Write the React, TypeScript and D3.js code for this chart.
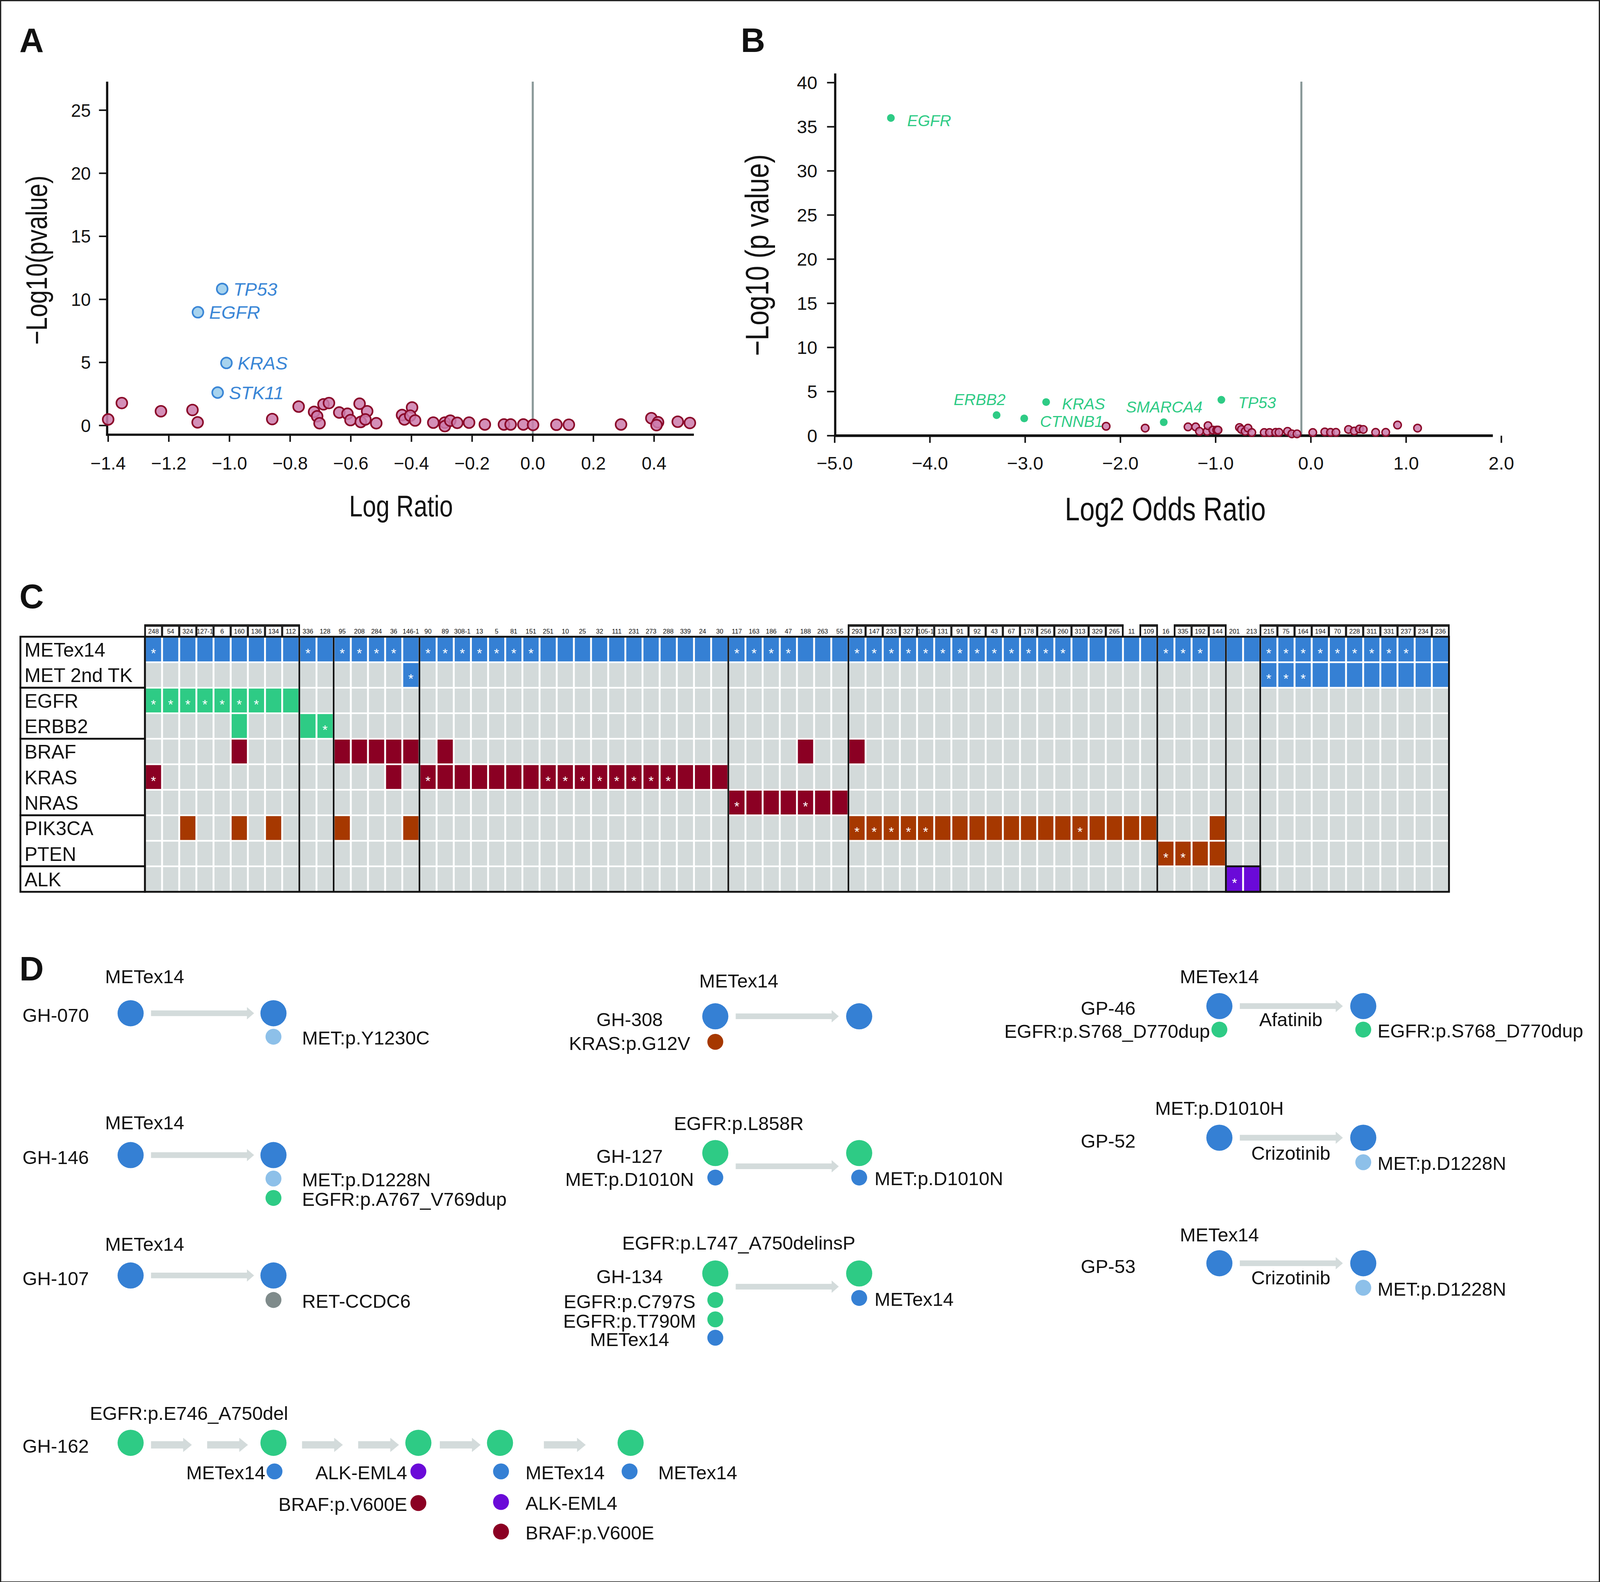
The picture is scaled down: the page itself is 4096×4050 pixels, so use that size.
import React from "react";
import * as d3 from "d3";

const S = 4096 / 1568;
const FONT = "'Liberation Sans', Arial, Helvetica, sans-serif";

// ---------------- Panel A data ----------------
const aBlueGenes = ["TP53", "EGFR", "KRAS", "STK11"];
const aBlueX = [-1.024, -1.104, -1.01, -1.039];
const aBlueY = [10.83, 8.98, 4.96, 2.61];
const aRedX = [-1.4, -1.355, -1.226, -1.122, -1.105, -0.859, -0.772, -0.721, -0.711, -0.703, -0.69, -0.672, -0.638, -0.611, -0.601, -0.571, -0.567, -0.546, -0.552, -0.516, -0.431, -0.423, -0.398, -0.404, -0.388, -0.328, -0.29, -0.29, -0.272, -0.249, -0.21, -0.158, -0.095, -0.073, -0.031, 0.001, 0.078, 0.119, 0.291, 0.391, 0.413, 0.408, 0.478, 0.518];
const aRedY = [0.48, 1.78, 1.13, 1.23, 0.25, 0.51, 1.5, 1.08, 0.73, 0.18, 1.68, 1.78, 1.03, 0.93, 0.43, 1.73, 0.28, 1.13, 0.48, 0.18, 0.83, 0.48, 1.43, 0.78, 0.4, 0.23, 0.23, -0.05, 0.38, 0.21, 0.23, 0.08, 0.08, 0.08, 0.08, 0.05, 0.06, 0.06, 0.08, 0.58, 0.26, 0.03, 0.3, 0.2];
const aXTicks = [-1.4, -1.2, -1.0, -0.8, -0.6, -0.4, -0.2, 0, 0.2, 0.4];
const aYTicks = [0, 5, 10, 15, 20, 25];

// ---------------- Panel B data ----------------
const bGreenGenes = ["EGFR", "ERBB2", "CTNNB1", "KRAS", "SMARCA4", "TP53"];
const bGreenX = [-4.41, -3.3, -3.01, -2.78, -1.545, -0.94];
const bGreenY = [36.0, 2.33, 1.96, 3.81, 1.53, 4.07];
const bRedX = [-2.15, -1.74, -1.29, -1.21, -1.17, -1.09, -1.08, -1.03, -0.99, -0.975, -0.75, -0.73, -0.69, -0.66, -0.62, -0.49, -0.435, -0.37, -0.335, -0.245, -0.2, -0.146, 0.02, 0.146, 0.206, 0.263, 0.395, 0.456, 0.51, 0.55, 0.68, 0.786, 0.91, 1.12];
const bRedY = [1.07, 0.86, 1.0, 1.0, 0.5, 0.5, 1.14, 0.64, 0.64, 0.64, 0.93, 0.71, 0.5, 0.86, 0.36, 0.36, 0.36, 0.38, 0.38, 0.5, 0.21, 0.21, 0.36, 0.43, 0.38, 0.38, 0.71, 0.53, 0.76, 0.71, 0.38, 0.38, 1.21, 0.86];
const bXTicks = [-5, -4, -3, -2, -1, 0, 1, 2];
const bYTicks = [0, 5, 10, 15, 20, 25, 30, 35, 40];

// ---------------- Panel C data ----------------
const cSamples = ["248", "54", "324", "127-1", "6", "160", "136", "134", "112", "336", "128", "95", "208", "284", "36", "146-1", "90", "89", "308-1", "13", "5", "81", "151", "251", "10", "25", "32", "111", "231", "273", "288", "339", "24", "30", "117", "163", "186", "47", "188", "263", "55", "293", "147", "233", "327", "105-1", "131", "91", "92", "43", "67", "178", "256", "260", "313", "329", "265", "11", "109", "16", "335", "192", "144", "201", "213", "215", "75", "164", "194", "70", "228", "311", "331", "237", "234", "236"];
const cGenes = ["METex14", "MET 2nd TK", "EGFR", "ERBB2", "BRAF", "KRAS", "NRAS", "PIK3CA", "PTEN", "ALK"];
const cGeneClass = ["met", "met", "egfr", "egfr", "ras", "ras", "ras", "pi3k", "pi3k", "alk"];
const cGeneGroups = [["METex14", "MET 2nd TK"], ["EGFR", "ERBB2"], ["BRAF", "KRAS", "NRAS"], ["PIK3CA", "PTEN"], ["ALK"]];
const cAltered: string[][] = [
  cSamples,
  ["146-1", "215", "75", "164", "194", "70", "228", "311", "331", "237", "234", "236"],
  ["248", "54", "324", "127-1", "6", "160", "136", "134", "112"],
  ["160", "336", "128"],
  ["160", "95", "208", "284", "36", "146-1", "89", "188", "293"],
  ["248", "36", "90", "89", "308-1", "13", "5", "81", "151", "251", "10", "25", "32", "111", "231", "273", "288", "339", "24", "30"],
  ["117", "163", "186", "47", "188", "263", "55"],
  ["324", "160", "134", "95", "146-1", "293", "147", "233", "327", "105-1", "131", "91", "92", "43", "67", "178", "256", "260", "313", "329", "265", "11", "109", "144"],
  ["16", "335", "192", "144"],
  ["201", "213"],
];
const cStarred: string[][] = [
  ["248", "336", "95", "208", "284", "36", "90", "89", "308-1", "13", "5", "81", "151", "117", "163", "186", "47", "293", "147", "233", "327", "105-1", "131", "91", "92", "43", "67", "178", "256", "260", "16", "335", "192", "215", "75", "164", "194", "70", "228", "311", "331", "237"],
  ["146-1", "215", "75", "164"],
  ["248", "54", "324", "127-1", "6", "160", "136"],
  ["128"],
  [],
  ["248", "90", "251", "10", "25", "32", "111", "231", "273", "288"],
  ["117", "188"],
  ["293", "147", "233", "327", "105-1", "313"],
  ["16", "335"],
  ["201"],
];
const cGroupEnds = ["112", "128", "146-1", "30", "55", "109", "144", "213"];
const cBoxedRuns = [["248", "112"], ["293", "265"], ["109", "109"], ["335", "144"], ["215", "236"]];
const cAlkBox = ["201", "213"];

// ---------------- Panel D data ----------------
type Mut = [string, string];
const dCases: { id: string; top: string; drug?: string; big: string; before: Mut[]; after: Mut[] }[] = [
  { id: "GH-070", top: "METex14", big: "blue", before: [], after: [["MET:p.Y1230C", "lightblue"]] },
  { id: "GH-146", top: "METex14", big: "blue", before: [], after: [["MET:p.D1228N", "lightblue"], ["EGFR:p.A767_V769dup", "green"]] },
  { id: "GH-107", top: "METex14", big: "blue", before: [], after: [["RET-CCDC6", "gray"]] },
  { id: "GH-308", top: "METex14", big: "blue", before: [["KRAS:p.G12V", "orange"]], after: [] },
  { id: "GH-127", top: "EGFR:p.L858R", big: "green", before: [["MET:p.D1010N", "blue"]], after: [["MET:p.D1010N", "blue"]] },
  { id: "GH-134", top: "EGFR:p.L747_A750delinsP", big: "green", before: [["EGFR:p.C797S", "green"], ["EGFR:p.T790M", "green"], ["METex14", "blue"]], after: [["METex14", "blue"]] },
  { id: "GP-46", top: "METex14", drug: "Afatinib", big: "blue", before: [["EGFR:p.S768_D770dup", "green"]], after: [["EGFR:p.S768_D770dup", "green"]] },
  { id: "GP-52", top: "MET:p.D1010H", drug: "Crizotinib", big: "blue", before: [], after: [["MET:p.D1228N", "lightblue"]] },
  { id: "GP-53", top: "METex14", drug: "Crizotinib", big: "blue", before: [], after: [["MET:p.D1228N", "lightblue"]] },
];
const d162 = {
  id: "GH-162",
  top: "EGFR:p.E746_A750del",
  big: "green",
  stages: [
    [] as Mut[],
    [["METex14", "blue"]] as Mut[],
    [["ALK-EML4", "purple"], ["BRAF:p.V600E", "darkred"]] as Mut[],
    [["METex14", "blue"], ["ALK-EML4", "purple"], ["BRAF:p.V600E", "darkred"]] as Mut[],
    [["METex14", "blue"]] as Mut[],
  ],
};

// ---------------- Styles ----------------
const COL: Record<string, string> = {
  blue: "#3580D4",
  lightblue: "#8DC0E9",
  green: "#2ECB85",
  orange: "#A63800",
  gray: "#7F8B8B",
  purple: "#6A0AD8",
  darkred: "#8B0023",
};
const CLASS_COL: Record<string, string> = {
  met: "#3580D4",
  egfr: "#2ECB85",
  ras: "#8B0023",
  pi3k: "#A63800",
  alk: "#6A0AD8",
};
const CELL_GRAY = "#D3DADA";
const VLINE = "#8A9999";

// layout for panel D
const dColumns = {
  L: { idX: 22, idAnchor: "start", topX: 103, topAnchor: "start", c1: 128, c2: 268, a1: 148, a2: 249, afterX: 296, beforeX: 617, drugX: 0 },
  M: { idX: 617, idAnchor: "middle", topX: 724, topAnchor: "middle", c1: 701, c2: 842, a1: 721, a2: 822, afterX: 857, beforeX: 617, drugX: 0 },
  R: { idX: 1086, idAnchor: "middle", topX: 1195, topAnchor: "middle", c1: 1195, c2: 1336, a1: 1215, a2: 1316, afterX: 1350, beforeX: 1085, drugX: 1265 },
};
const dLayout = [
  { col: "L", top: 957, id: 995, circ: 993, arrow: 993, drug: 0, before: [] as number[], after: [1016] },
  { col: "L", top: 1100, id: 1134, circ: 1132, arrow: 1132, drug: 0, before: [], after: [1155, 1174] },
  { col: "L", top: 1219, id: 1253, circ: 1250, arrow: 1250, drug: 0, before: [], after: [1274] },
  { col: "M", top: 961, id: 999, circ: 996, arrow: 996, drug: 0, before: [1021], after: [] },
  { col: "M", top: 1101, id: 1133, circ: 1130, arrow: 1143, drug: 0, before: [1154], after: [1154] },
  { col: "M", top: 1218, id: 1251, circ: 1248, arrow: 1261, drug: 0, before: [1274, 1293, 1311], after: [1272] },
  { col: "R", top: 957, id: 988, circ: 986, arrow: 986, drug: 999, before: [1009], after: [1009] },
  { col: "R", top: 1086, id: 1118, circ: 1115, arrow: 1115, drug: 1130, before: [], after: [1139] },
  { col: "R", top: 1210, id: 1241, circ: 1238, arrow: 1238, drug: 1252, before: [], after: [1262] },
];

const FS_D = 18.6;
const base = (cy: number, fs: number) => cy + fs * 0.355;

function Txt(p: { x: number; y: number; t: string; a?: string; fs?: number; fill?: string; it?: boolean; w?: string }) {
  return (
    <text x={p.x} y={p.y} textAnchor={(p.a as any) || "start"} fontSize={p.fs || FS_D} fill={p.fill || "#111"} fontStyle={p.it ? "italic" : "normal"} fontWeight={p.w || "normal"} fontFamily={FONT}>
      {p.t}
    </text>
  );
}

// condensed title text (horizontal compression of a regular face)
function Title(p: { x: number; y: number; t: string; fs: number; rot?: boolean; sx?: number }) {
  const sx = p.sx ?? 0.82;
  return (
    <g transform={`translate(${p.x},${p.y})${p.rot ? " rotate(-90)" : ""} scale(${sx},1)`}>
      <text x={0} y={0} textAnchor="middle" fontSize={p.fs} fill="#111" fontFamily={FONT}>
        {p.t}
      </text>
    </g>
  );
}

function Arrow(p: { x1: number; x2: number; y: number; body?: number; head?: number; len?: number }) {
  const b = (p.body ?? 5.6) / 2;
  const h = (p.head ?? 12) / 2;
  const l = p.len ?? 7;
  const xm = p.x2 - l;
  const pts = [
    [p.x1, p.y - b], [xm, p.y - b], [xm, p.y - h], [p.x2, p.y], [xm, p.y + h], [xm, p.y + b], [p.x1, p.y + b],
  ].map((q) => q.join(",")).join(" ");
  return <polygon points={pts} fill="#D3DBDB" />;
}

function PanelA() {
  const x = d3.scaleLinear().domain([-1.4, 0.4]).range([106, 641]);
  const y = d3.scaleLinear().domain([0, 25]).range([417, 108]);
  const fmt = d3.format(".1f");
  const axX = 105, axY = 426, right = 680, top = 80;
  return (
    <g>
      <line x1={x(0)} x2={x(0)} y1={top} y2={axY} stroke={VLINE} strokeWidth={2} />
      <line x1={axX} x2={axX} y1={top} y2={axY + 1} stroke="#111" strokeWidth={2.2} />
      <line x1={axX - 1} x2={right} y1={axY} y2={axY} stroke="#111" strokeWidth={2.2} />
      {aYTicks.map((t) => (
        <g key={"ay" + t}>
          <line x1={axX - 8} x2={axX} y1={y(t)} y2={y(t)} stroke="#111" strokeWidth={1.5} />
          <Txt x={89} y={y(t) + 6.3} t={String(t)} a="end" fs={17.5} />
        </g>
      ))}
      {aXTicks.map((t) => (
        <g key={"ax" + t}>
          <line x1={x(t)} x2={x(t)} y1={axY} y2={axY + 7} stroke="#111" strokeWidth={1.5} />
          <Txt x={x(t)} y={460} t={fmt(t)} a="middle" fs={17.5} />
        </g>
      ))}
      {aRedX.map((v, i) => (
        <circle key={"ar" + i} cx={x(v)} cy={y(aRedY[i])} r={5.3} fill="#CD7BAB" fillOpacity={0.85} stroke="#8B0A2A" strokeWidth={1.6} />
      ))}
      {aBlueX.map((v, i) => (
        <g key={"ab" + i}>
          <circle cx={x(v)} cy={y(aBlueY[i])} r={5.3} fill="#A7D3EE" stroke="#3A86D6" strokeWidth={1.6} />
          <Txt x={x(v) + 11} y={y(aBlueY[i]) + 6.5} t={aBlueGenes[i]} fs={18} it fill="#3A86D6" />
        </g>
      ))}
      <Title x={393} y={506} t="Log Ratio" fs={29} />
      <Title x={46} y={255} t={"\u2212Log10(pvalue)"} fs={29} rot />
      <Txt x={19} y={51} t="A" fs={33} w="bold" />
    </g>
  );
}

const bLabelOff: Record<string, [number, number]> = {
  EGFR: [16, 8],
  ERBB2: [-42, -10],
  CTNNB1: [15.5, 8.3],
  KRAS: [15.6, 7],
  SMARCA4: [-37, -9.6],
  TP53: [16.5, 8.4],
};

function PanelB() {
  const x = d3.scaleLinear().domain([-5, 1]).range([818, 1378]);
  const y = d3.scaleLinear().domain([0, 40]).range([427, 81]);
  const fmt = d3.format(".1f");
  const axX = 818.5, axY = 427, right = 1463, top = 72;
  return (
    <g>
      <line x1={x(-0.1)} x2={x(-0.1)} y1={80} y2={axY} stroke={VLINE} strokeWidth={2} />
      <line x1={axX} x2={axX} y1={top} y2={axY + 1} stroke="#111" strokeWidth={2.2} />
      <line x1={axX - 1} x2={right} y1={axY} y2={axY} stroke="#111" strokeWidth={2.6} />
      {bYTicks.map((t) => (
        <g key={"by" + t}>
          <line x1={axX - 8} x2={axX} y1={y(t)} y2={y(t)} stroke="#111" strokeWidth={1.5} />
          <Txt x={801} y={y(t) + 6.4} t={String(t)} a="end" fs={18} />
        </g>
      ))}
      {bXTicks.map((t) => (
        <g key={"bx" + t}>
          <line x1={x(t)} x2={x(t)} y1={axY} y2={axY + 7} stroke="#111" strokeWidth={1.5} />
          <Txt x={x(t)} y={460} t={fmt(t)} a="middle" fs={18} />
        </g>
      ))}
      {bRedX.map((v, i) => (
        <circle key={"br" + i} cx={x(v)} cy={y(bRedY[i])} r={3.7} fill="#CD7BAB" fillOpacity={0.85} stroke="#8B0A2A" strokeWidth={1.4} />
      ))}
      {bGreenX.map((v, i) => {
        const o = bLabelOff[bGreenGenes[i]];
        return (
          <g key={"bg" + i}>
            <circle cx={x(v)} cy={y(bGreenY[i])} r={3.8} fill="#2ECB85" />
            <Txt x={x(v) + o[0]} y={y(bGreenY[i]) + o[1]} t={bGreenGenes[i]} fs={15.5} it fill="#2ECB85" />
          </g>
        );
      })}
      <Title x={1142} y={510} t="Log2 Odds Ratio" fs={32} />
      <Title x={753} y={250} t={"\u2212Log10 (p value)"} fs={32} rot />
      <Txt x={726} y={51} t="B" fs={33} w="bold" />
    </g>
  );
}

function PanelC() {
  const x = d3.scaleBand<string>().domain(cSamples).range([142, 1420]).paddingInner(0.11).paddingOuter(0.055);
  const y = d3.scaleBand<string>().domain(cGenes).range([624, 874]).paddingInner(0.065).paddingOuter(0.0325);
  const step = x.step();
  const colStart = (s: string) => 142 + cSamples.indexOf(s) * step;
  const colEnd = (s: string) => colStart(s) + step;
  const rStep = y.step();
  const rowStart = (g: string) => 624 + cGenes.indexOf(g) * rStep;
  const boxed = new Set<string>();
  cBoxedRuns.forEach(([a, b]) => {
    const i0 = cSamples.indexOf(a), i1 = cSamples.indexOf(b);
    for (let i = i0; i <= i1; i++) boxed.add(cSamples[i]);
  });
  const hTop = 612.5, hBot = 624;
  return (
    <g>
      <Txt x={19} y={596} t="C" fs={33} w="bold" />
      {cSamples.map((s) => (
        <g key={"h" + s}>
          {boxed.has(s) && <rect x={colStart(s) + 0.5} y={hTop + 1.2} width={step - 1} height={hBot - hTop - 1.2} fill="#fff" stroke="#111" strokeWidth={1} />}
          <Txt x={colStart(s) + step / 2} y={621} t={s} a="middle" fs={6.3} />
        </g>
      ))}
      {cBoxedRuns.map(([a, b]) => (
        <path key={"hb" + a} d={`M${colStart(a)},${hBot} V${hTop} H${colEnd(b)} V${hBot}`} fill="none" stroke="#111" strokeWidth={1.3} />
      ))}
      {cGenes.map((g, gi) =>
        cSamples.map((s) => {
          const alt = cAltered[gi].includes(s);
          const star = cStarred[gi].includes(s);
          const cx = (x(s) as number) + x.bandwidth() / 2;
          const cy = (y(g) as number) + y.bandwidth() / 2;
          return (
            <g key={g + s}>
              <rect x={x(s)} y={y(g)} width={x.bandwidth()} height={y.bandwidth()} fill={alt ? CLASS_COL[cGeneClass[gi]] : CELL_GRAY} />
              {star && <text x={cx} y={cy + 8.2} textAnchor="middle" fontSize={13} fill="#fff" fontFamily={FONT}>*</text>}
            </g>
          );
        })
      )}
      {cGroupEnds.map((s) => (
        <line key={"sep" + s} x1={colEnd(s)} x2={colEnd(s)} y1={624} y2={874} stroke="#111" strokeWidth={1.6} />
      ))}
      <rect x={colStart(cAlkBox[0])} y={rowStart("ALK")} width={colEnd(cAlkBox[1]) - colStart(cAlkBox[0])} height={874 - rowStart("ALK")} fill="none" stroke="#111" strokeWidth={1.8} />
      <rect x={142} y={624} width={1278} height={250} fill="none" stroke="#111" strokeWidth={1.8} />
      {cGeneGroups.map((grp) => {
        const y0 = rowStart(grp[0]);
        const y1 = rowStart(grp[grp.length - 1]) + rStep;
        return <rect key={"lg" + grp[0]} x={20} y={y0} width={122} height={y1 - y0} fill="#fff" stroke="#111" strokeWidth={1.8} />;
      })}
      {cGenes.map((g) => (
        <Txt key={"lab" + g} x={24} y={base(rowStart(g) + rStep / 2 + 0.3, 19)} t={g} fs={19} />
      ))}
    </g>
  );
}

function MutDots(p: { muts: Mut[]; ys: number[]; cx: number; tx: number; anchor: string }) {
  return (
    <g>
      {p.muts.map((m, i) => (
        <g key={m[0] + i}>
          <circle cx={p.cx} cy={p.ys[i]} r={7.8} fill={COL[m[1]]} />
          <Txt x={p.tx} y={base(p.ys[i] + 1, FS_D)} t={m[0]} a={p.anchor} />
        </g>
      ))}
    </g>
  );
}

function PanelD() {
  const R = 12.8;
  const st = d162.stages;
  const cx162 = [128, 268, 410, 490, 618];
  const ar162: [number, number][] = [[148, 188], [203, 243], [296, 336], [351, 391], [431, 471], [533, 574]];
  return (
    <g>
      <Txt x={19} y={961} t="D" fs={33} w="bold" />
      {dCases.map((c, i) => {
        const L = dLayout[i];
        const col = (dColumns as any)[L.col];
        return (
          <g key={c.id}>
            <Txt x={col.topX} y={base(L.top, FS_D)} t={c.top} a={col.topAnchor} />
            <Txt x={col.idX} y={base(L.id, FS_D)} t={c.id} a={col.idAnchor} />
            <Arrow x1={col.a1} x2={col.a2} y={L.arrow} />
            <circle cx={col.c1} cy={L.circ} r={R} fill={COL[c.big]} />
            <circle cx={col.c2} cy={L.circ} r={R} fill={COL[c.big]} />
            {c.drug && <Txt x={col.drugX} y={base(L.drug, FS_D)} t={c.drug} a="middle" />}
            {c.before.map((m, k) => (
              <circle key={"b" + k} cx={col.c1} cy={L.before[k]} r={7.8} fill={COL[m[1]]} />
            ))}
            {c.before.map((m, k) => (
              <Txt key={"bt" + k} x={col.beforeX} y={base(L.before[k] + 1.5, FS_D)} t={m[0]} a="middle" />
            ))}
            <MutDots muts={c.after} ys={L.after} cx={col.c2} tx={col.afterX} anchor="start" />
          </g>
        );
      })}
      <Txt x={88} y={base(1385, FS_D)} t={d162.top} />
      <Txt x={22} y={base(1417, FS_D)} t={d162.id} />
      {ar162.map(([a, b], i) => (
        <Arrow key={"a162" + i} x1={a} x2={b} y={1416} body={7.2} head={14} len={8.5} />
      ))}
      {cx162.map((cx, i) => (
        <circle key={"c162" + i} cx={cx} cy={1414} r={R} fill={COL[d162.big]} />
      ))}
      <MutDots muts={st[1]} ys={[1442]} cx={269} tx={260} anchor="end" />
      <MutDots muts={st[2]} ys={[1442, 1473]} cx={410} tx={399} anchor="end" />
      <MutDots muts={st[3]} ys={[1442, 1472, 1501]} cx={491} tx={515} anchor="start" />
      <MutDots muts={st[4]} ys={[1442]} cx={617} tx={645} anchor="start" />
    </g>
  );
}

export default function App() {
  return (
    <svg width={4096} height={4050} viewBox="0 0 4096 4050" style={{ position: "absolute", left: 0, top: 0, background: "#fff" }}>
      <rect x={0} y={0} width={4096} height={4050} fill="#fff" />
      <g transform={`scale(${S})`}>
        <rect x={0.6} y={0.6} width={1566.8} height={1549.8} fill="none" stroke="#222" strokeWidth={1.2} />
        <PanelA />
        <PanelB />
        <PanelC />
        <PanelD />
      </g>
    </svg>
  );
}
